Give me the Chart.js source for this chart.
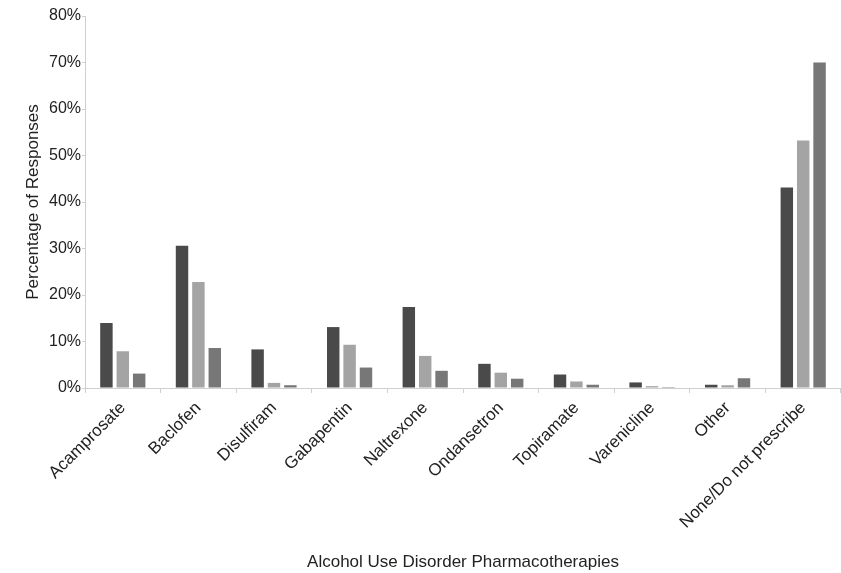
<!DOCTYPE html>
<html>
<head>
<meta charset="utf-8">
<script src="https://cdn.jsdelivr.net/npm/chart.js@4/dist/chart.umd.min.js"></script>
<style>
  html, body { margin: 0; padding: 0; background: #fff; }
  #wrap { width: 841px; height: 573px; position: relative; }
</style>
</head>
<body>
<div id="wrap"><canvas id="chart"></canvas></div>
<script>
// categories and series (percent of responses)
const drugs = ['Acamprosate', 'Baclofen', 'Disulfiram', 'Gabapentin', 'Naltrexone',
  'Ondansetron', 'Topiramate', 'Varenicline', 'Other', 'None/Do not prescribe'];
const seriesA = [14.0, 30.6, 8.3, 13.1, 17.4, 5.2, 2.9, 1.2, 0.7, 43.1];
const seriesB = [7.9, 22.8, 1.1, 9.3, 6.9, 3.3, 1.4, 0.4, 0.6, 53.2];
const seriesC = [3.1, 8.6, 0.6, 4.4, 3.7, 2.0, 0.7, 0.2, 2.1, 70.0];
const yTicks = [0, 10, 20, 30, 40, 50, 60, 70, 80];

const FONT = "'Liberation Sans', Arial, sans-serif";
const barOpts = { categoryPercentage: 0.65, barPercentage: 0.76, borderWidth: 0 };

new Chart(document.getElementById('chart'), {
  type: 'bar',
  data: {
    labels: drugs,
    datasets: [
      Object.assign({ label: 'A', data: seriesA, backgroundColor: '#4a4a4a' }, barOpts),
      Object.assign({ label: 'B', data: seriesB, backgroundColor: '#a4a4a4' }, barOpts),
      Object.assign({ label: 'C', data: seriesC, backgroundColor: '#777777' }, barOpts)
    ]
  },
  options: {
    responsive: true,
    maintainAspectRatio: false,
    animation: false,
    layout: { padding: { top: 16, right: 0, left: 0, bottom: 0 } },
    plugins: { legend: { display: false }, tooltip: { enabled: false } },
    scales: {
      x: {
        grid: { display: true, drawOnChartArea: false, offset: true, tickLength: 5, color: '#cfcfcf' },
        border: { color: '#cfcfcf', width: 1 },
        ticks: { color: '#222', font: { family: FONT, size: 17 }, minRotation: 45, maxRotation: 45, padding: 5 },
        title: { display: true, text: 'Alcohol Use Disorder Pharmacotherapies', color: '#222',
                 font: { family: FONT, size: 17 }, padding: { top: 4, bottom: 0 } },
        afterFit: s => { s.height = 185; }
      },
      y: {
        min: 0, max: 80,
        afterBuildTicks: s => { s.ticks = yTicks.map(v => ({ value: v })); },
        grid: { display: true, drawOnChartArea: false, tickLength: 3, color: '#cfcfcf' },
        border: { color: '#cfcfcf', width: 1 },
        ticks: { color: '#222', font: { family: FONT, size: 16 }, padding: 1, callback: v => v + '%' },
        title: { display: true, text: 'Percentage of Responses', color: '#222',
                 font: { family: FONT, size: 17 }, padding: { top: 23, bottom: 0 } },
        afterFit: s => { s.width = 85; }
      }
    }
  }
});
</script>
</body>
</html>
